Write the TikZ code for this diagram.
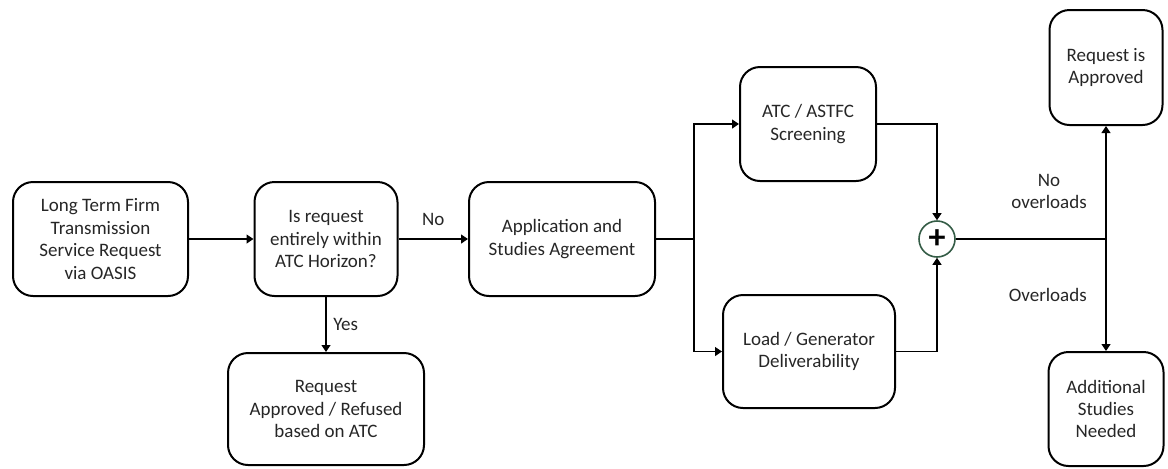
\documentclass[tikz,border=0pt]{standalone}
\usepackage{fontspec}
\setmainfont{Carlito}
\usetikzlibrary{arrows.meta}
\definecolor{boxtext}{RGB}{38,38,38}
\definecolor{sumgreen}{RGB}{52,92,70}
\tikzset{
  stepbox/.style={draw, line width=1pt, rounded corners=10pt, align=center, text=boxtext, font=\fontsize{9.5}{11.2}\selectfont},
  arr/.style={line width=0.6pt, -{Triangle[length=3.5pt, width=4.5pt]}},
  lbl/.style={text=boxtext, font=\fontsize{9.5}{11.2}\selectfont}
}
\begin{document}
\begin{tikzpicture}[x=0.5pt, y=-0.5pt]
\useasboundingbox (0, 0) rectangle (1168, 468);

\node[stepbox, minimum width=87.5pt, minimum height=57pt] (req) at (100.5, 239) {Long Term Firm\\Transmission\\Service Request\\via OASIS};
\node[stepbox, minimum width=71.5pt, minimum height=57pt] (horizon) at (326, 239) {Is request\\entirely within\\ATC Horizon?};
\node[stepbox, minimum width=98pt, minimum height=56pt] (atcres) at (326, 409) {Request\\Approved / Refused\\based on ATC};
\node[stepbox, minimum width=93pt, minimum height=57pt] (agree) at (562, 239) {Application and\\Studies Agreement};
\node[stepbox, minimum width=68pt, minimum height=57pt] (screen) at (808, 124) {ATC / ASTFC\\Screening};
\node[stepbox, minimum width=86pt, minimum height=56.5pt] (deliv) at (809, 351.5) {Load / Generator\\Deliverability};
\node[draw=sumgreen, circle, line width=0.8pt, minimum size=18pt, inner sep=0pt] (sum) at (937, 239) {\fontsize{17}{17}\selectfont\bfseries +};
\node[stepbox, minimum width=56.5pt, minimum height=57.5pt] (approved) at (1106, 67.5) {Request is\\Approved};
\node[stepbox, minimum width=57.5pt, minimum height=57pt] (studies) at (1106, 409) {Additional\\Studies\\Needed};

\coordinate (split) at (694, 239);
\coordinate (fork) at (1106, 239);

\draw[arr] (req) -- (horizon);
\draw[arr] (horizon) -- node[lbl, above=3pt] {No} (agree);
\draw[arr] (horizon) -- node[lbl, right] {Yes} (atcres);

\draw[line width=0.6pt] (agree) -- (split);
\draw[arr] (split) |- (screen);
\draw[arr] (split) |- (deliv);

\draw[arr] (screen) -| (sum);
\draw[arr] (deliv) -| (sum);

\draw[line width=0.6pt] (sum) -- (fork);
\draw[arr] (fork) -- node[lbl, pos=0.42, left=6pt, align=center] {No\\overloads} (approved);
\draw[arr] (fork) -- node[lbl, pos=0.5, left=6pt] {Overloads} (studies);

\end{tikzpicture}
\end{document}
